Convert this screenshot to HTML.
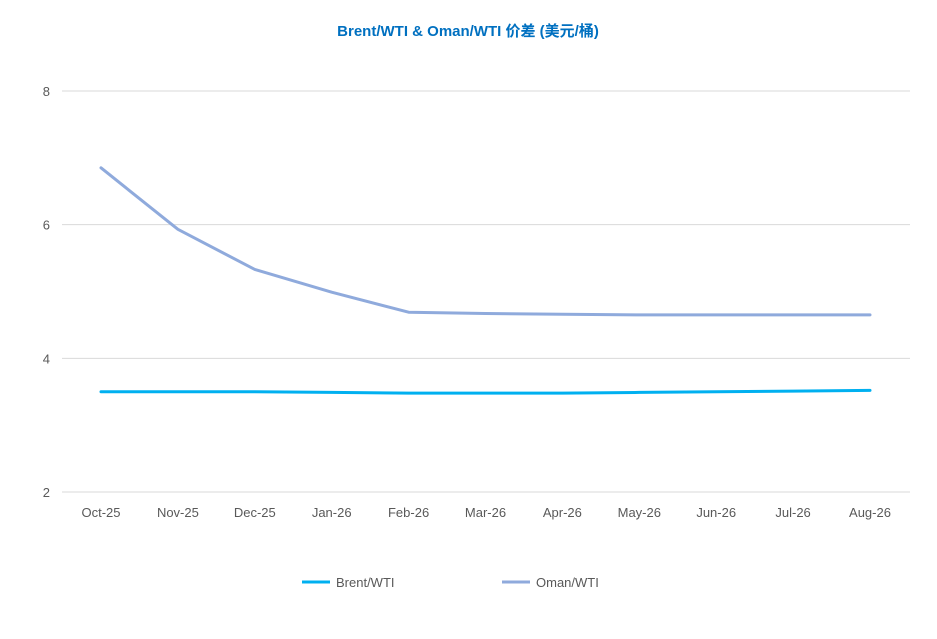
<!DOCTYPE html>
<html><head><meta charset="utf-8">
<style>
html,body{margin:0;padding:0;background:#fff;}
body{width:937px;height:634px;overflow:hidden;font-family:"Liberation Sans","Noto Sans CJK SC",sans-serif;}
</style></head>
<body>
<svg id="chart" width="937" height="634" xmlns="http://www.w3.org/2000/svg" font-family="Liberation Sans, Noto Sans CJK SC, sans-serif">
<text x="468" y="36" text-anchor="middle" font-size="15" font-weight="bold" fill="#0070c0">Brent/WTI &amp; Oman/WTI 价差 (美元/桶)</text>
<g id="grid"></g><g id="yticks"></g><g id="xticks"></g><g id="series"></g>
<g>
<line x1="302" y1="582" x2="330" y2="582" stroke="#00b0f0" stroke-width="3"/>
<text x="336" y="587" font-size="13" fill="#595959">Brent/WTI</text>
<line x1="502" y1="582" x2="530" y2="582" stroke="#8faadc" stroke-width="3"/>
<text x="536" y="587" font-size="13" fill="#595959">Oman/WTI</text>
</g>
</svg>
<script>
const categories=["Oct-25","Nov-25","Dec-25","Jan-26","Feb-26","Mar-26","Apr-26","May-26","Jun-26","Jul-26","Aug-26"];
const brentWti=[3.50,3.50,3.50,3.49,3.48,3.48,3.48,3.49,3.50,3.51,3.52];
const omanWti=[6.85,5.93,5.33,4.99,4.69,4.67,4.66,4.65,4.65,4.65,4.65];
const yTicks=[2,4,6,8];
const NS="http://www.w3.org/2000/svg";
const x0=101,x1=870,yTop=91,yBot=492,yMin=2,yMax=8,gl=62,gr=910;
const X=i=>x0+i*(x1-x0)/(categories.length-1);
const Y=v=>yBot-(v-yMin)/(yMax-yMin)*(yBot-yTop);
function mk(t,a){const e=document.createElementNS(NS,t);for(const k in a)e.setAttribute(k,a[k]);return e;}
const grid=document.getElementById('grid'),yt=document.getElementById('yticks'),xt=document.getElementById('xticks'),sr=document.getElementById('series');
yTicks.forEach(v=>{
 const l=mk('line',{x1:gl,x2:gr,y1:Y(v),y2:Y(v),stroke:'#d9d9d9','stroke-width':1});
 
 
 grid.appendChild(l);
 const t=mk('text',{x:50,y:Y(v)+5,'text-anchor':'end','font-size':13,fill:'#595959'});
 t.textContent=v;
 
 
 yt.appendChild(t);
});
categories.forEach((c,i)=>{
 const t=mk('text',{x:X(i),y:517,'text-anchor':'middle','font-size':13,fill:'#595959'});
 t.textContent=c;
 
 
 xt.appendChild(t);
});
function line(vals,color,name){
 const p=mk('polyline',{points:vals.map((v,i)=>X(i)+','+Y(v)).join(' '),fill:'none',stroke:color,'stroke-width':3,'stroke-linejoin':'round','stroke-linecap':'round'});
 
 
 sr.appendChild(p);
}
line(brentWti,'#00b0f0','brent-wti-line');
line(omanWti,'#8faadc','oman-wti-line');
</script>
</body></html>
